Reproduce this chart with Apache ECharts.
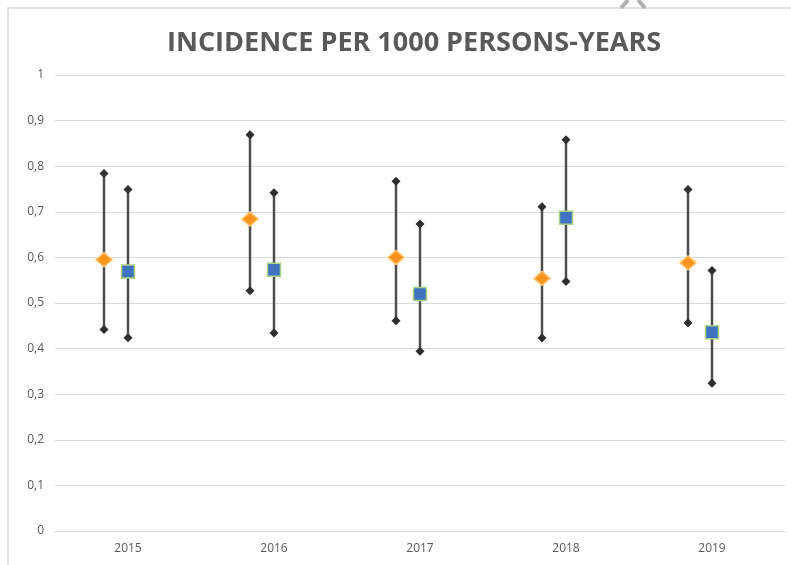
<!DOCTYPE html>
<html>
<head>
<meta charset="utf-8">
<script src="https://cdn.jsdelivr.net/npm/echarts@6/dist/echarts.min.js"></script>
<style>html,body{margin:0;padding:0;background:#fff}#c{width:791px;height:565px}</style>
</head>
<body>
<div id="c"></div>
<script>
const categories = ['2015', '2016', '2017', '2018', '2019'];
const yTicks = ['0', '0,1', '0,2', '0,3', '0,4', '0,5', '0,6', '0,7', '0,8', '0,9', '1'];
// Series A (orange diamonds)
const aCenter = [0.595, 0.684, 0.600, 0.554, 0.588];
const aLow    = [0.442, 0.527, 0.461, 0.423, 0.456];
const aHigh   = [0.784, 0.869, 0.767, 0.711, 0.749];
// Series B (blue squares)
const bCenter = [0.569, 0.573, 0.520, 0.687, 0.436];
const bLow    = [0.424, 0.434, 0.394, 0.547, 0.324];
const bHigh   = [0.749, 0.742, 0.673, 0.858, 0.571];

function rows(c, lo, hi) {
  return categories.map((_, i) => [i, lo[i], hi[i], c[i]]);
}

function makeRender(offset, kind) {
  return function (params, api) {
    const i = api.value(0);
    const pLo = api.coord([i, api.value(1)]);
    const pHi = api.coord([i, api.value(2)]);
    const pC = api.coord([i, api.value(3)]);
    const x = pC[0] + offset;
    const cap = 4.5;
    const diamond = (cx, cy, w, h) => [[cx, cy - h], [cx + w, cy], [cx, cy + h], [cx - w, cy]];
    const children = [
      { type: 'line', shape: { x1: x, y1: pLo[1], x2: x, y2: pHi[1] },
        style: { stroke: '#4d4d4d', lineWidth: 2.5 } },
      { type: 'polygon', shape: { points: diamond(x, pLo[1], cap, cap) }, style: { fill: '#2e2e2e' } },
      { type: 'polygon', shape: { points: diamond(x, pHi[1], cap, cap) }, style: { fill: '#2e2e2e' } }
    ];
    if (kind === 'diamond') {
      children.push({ type: 'polygon', shape: { points: diamond(x, pC[1], 8, 7) },
        style: { fill: '#f7941d', stroke: '#ffc36b', lineWidth: 1.5 } });
    } else {
      children.push({ type: 'rect', shape: { x: x - 6.5, y: pC[1] - 6.5, width: 13, height: 13 },
        style: { fill: '#3f73c0', stroke: '#a9cf85', lineWidth: 1.5 } });
    }
    return { type: 'group', children: children };
  };
}

const chart = echarts.init(document.getElementById('c'));
chart.setOption({
  animation: false,
  backgroundColor: '#ffffff',
  title: {
    text: 'INCIDENCE PER 1000 PERSONS-YEARS',
    left: 162,
    top: 25,
    textStyle: { fontFamily: 'Open Sans', fontWeight: 'bold', fontSize: 27, color: '#595959' }
  },
  graphic: [
    { type: 'polyline', shape: { points: [[8, 565], [8, 8], [791, 8]] },
      style: { stroke: '#d9d9d9', lineWidth: 1.5, fill: null }, z: -1 },
    { type: 'polyline', shape: { points: [[628, 0], [621, 8]] },
      style: { stroke: '#b0b0b0', lineWidth: 4, fill: null } },
    { type: 'polyline', shape: { points: [[638, 0], [645, 8]] },
      style: { stroke: '#b0b0b0', lineWidth: 4, fill: null } }
  ],
  grid: { left: 55, right: 6, top: 75, bottom: 34 },
  xAxis: {
    type: 'category',
    data: categories,
    boundaryGap: true,
    axisLine: { show: true, lineStyle: { color: '#d9d9d9', width: 1 } },
    axisTick: { show: false },
    axisLabel: { color: '#595959', fontFamily: 'Open Sans', fontSize: 12, margin: 12 }
  },
  yAxis: {
    type: 'value',
    min: 0, max: 1, interval: 0.1,
    axisLine: { show: false },
    axisTick: { show: false },
    splitLine: { lineStyle: { color: '#d9d9d9', width: 1 } },
    axisLabel: {
      color: '#595959', fontFamily: 'Open Sans', fontSize: 12, margin: 11,
      formatter: function (v) { return yTicks[Math.round(v * 10)]; }
    }
  },
  series: [
    { type: 'custom', name: 'A', data: rows(aCenter, aLow, aHigh),
      encode: { x: 0, y: [1, 2, 3] }, renderItem: makeRender(-24, 'diamond') },
    { type: 'custom', name: 'B', data: rows(bCenter, bLow, bHigh),
      encode: { x: 0, y: [1, 2, 3] }, renderItem: makeRender(0, 'square') }
  ]
});
</script>
</body>
</html>
